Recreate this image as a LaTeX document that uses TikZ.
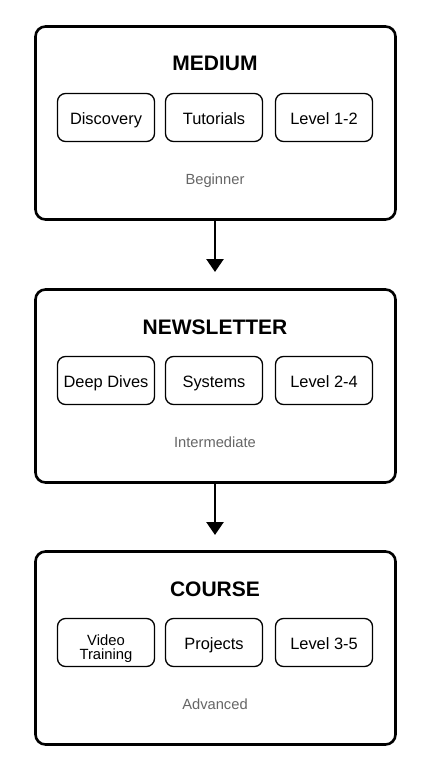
\documentclass[tikz,border=0pt]{standalone}
\usepackage{fontspec}
\setmainfont{Liberation Sans}
\usetikzlibrary{arrows.meta}
\definecolor{subgray}{HTML}{666666}
\tikzset{
  outerbox/.style={draw=black, line width=2.6pt, rounded corners=10pt, minimum width=360pt, minimum height=193pt, fill=white},
  innerbox/.style={draw=black, line width=1.3pt, rounded corners=8pt, minimum width=97pt, minimum height=48pt, font=\fontsize{16.4}{17}\selectfont, inner sep=0pt, text height=14.7pt, text depth=0pt},
  twoline/.style={font=\fontsize{14.8}{14.5}\selectfont, align=center, inner sep=0pt},
  titletext/.style={font=\fontsize{21}{22}\selectfont\bfseries, inner sep=0pt, text height=15pt, text depth=0pt},
  subtext/.style={font=\fontsize{14.7}{15}\selectfont, text=subgray, inner sep=0pt, text height=10.5pt, text depth=0pt},
  flowarrow/.style={line width=2.6pt, -{Triangle[length=13pt, width=17pt]}}
}
\begin{document}
\begin{tikzpicture}[x=1pt, y=-1pt]
\useasboundingbox (0,0) rectangle (437,762);
% Box 1
\node[outerbox] (b1) at (215.5,123) {};
\node[titletext] (t1) at (215,63.5) {MEDIUM};
\node[innerbox] (i11) at (106,117.5) {Discovery};
\node[innerbox] (i12) at (214,117.5) {Tutorials};
\node[innerbox] (i13) at (324,117.5) {Level 1-2};
\node[subtext] (s1) at (215,179) {Beginner};
% Box 2
\node[outerbox] (b2) at (215.5,386) {};
\node[titletext] (t2) at (215,326.5) {NEWSLETTER};
\node[innerbox] (i21) at (106,380.5) {Deep Dives};
\node[innerbox] (i22) at (214,380.5) {Systems};
\node[innerbox] (i23) at (324,380.5) {Level 2-4};
\node[subtext] (s2) at (215,442) {Intermediate};
% Box 3
\node[outerbox] (b3) at (215.5,648) {};
\node[titletext] (t3) at (215,588.5) {COURSE};
\node[innerbox] (i31) at (106,642.5) {};
\node[twoline] (i31t) at (106,648.5) {Video\\Training};
\node[innerbox] (i32) at (214,642.5) {Projects};
\node[innerbox] (i33) at (324,642.5) {Level 3-5};
\node[subtext] (s3) at (215,704) {Advanced};
% Arrows
\draw[flowarrow] (b1.south -| 215,0) -- (215,272);
\draw[flowarrow] (b2.south -| 215,0) -- (215,535);
\end{tikzpicture}
\end{document}
